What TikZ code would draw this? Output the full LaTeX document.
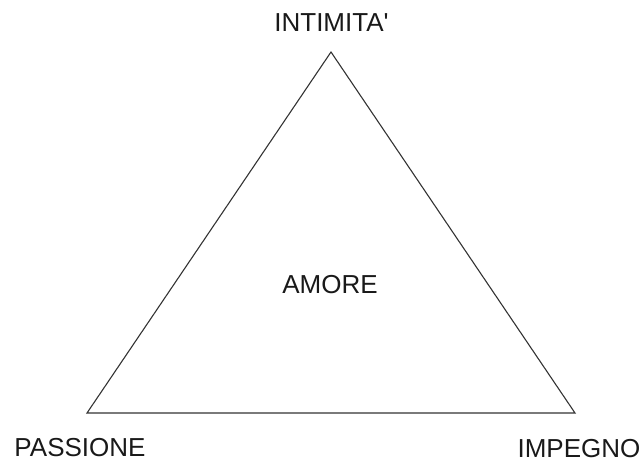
\documentclass[tikz,border=0pt]{standalone}
\usepackage{fontspec}
\setmainfont{Liberation Sans}
\usetikzlibrary{calc}

\begin{document}
\begin{tikzpicture}[x=0.5pt, y=-0.5pt, font=\fontsize{13}{15.6}\selectfont,
    vertex/.style={anchor=base, inner sep=0pt, text=black!90},
    side/.style={draw=black!80, line width=0.55pt, line join=miter}]
  % ---------------------------------------------------------------- frame of the picture
  \useasboundingbox (0,0) rectangle (644,461);
  % ---------------------------------------------------------------- the three corners
  \coordinate (intimita) at (331,52);
  \coordinate (passione) at (87,413);
  \coordinate (impegno) at (575,413);
  \draw[side] (intimita) -- (passione) -- (impegno) -- cycle;
  % ---------------------------------------------------------------- labels
  \node[vertex] (lintimita) at (331.5,31) {INTIMITA\textquotesingle};
  \node[vertex] (lpassione) at (80,456) {PASSIONE};
  \node[vertex] (limpegno) at (579,457) {IMPEGNO};
  \node[vertex] (lamore) at (330,293) {AMORE};
\end{tikzpicture}
\end{document}
